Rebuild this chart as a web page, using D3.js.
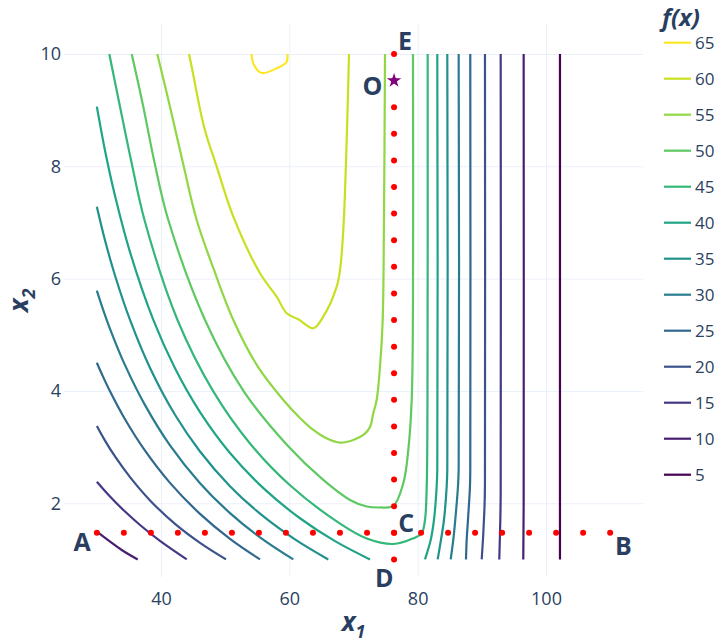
<!DOCTYPE html>
<html><head><meta charset="utf-8">
<script src="https://cdn.jsdelivr.net/npm/d3@7"></script>
<style>body{margin:0;background:#fff;} svg{display:block;font-family:"Open Sans",sans-serif;}</style>
</head><body><svg id="c" width="718" height="642"></svg>
<script>
// ---------------- data ----------------
const levels = [5,10,15,20,25,30,35,40,45,50,55,60,65];
const xTicks = [40,60,80,100];
const yTicks = [2,4,6,8,10];

// contour lines, [x1, x2]
const c05  = [[102.18,1],[102.18,10]];
const c10L = [[30.0,1.494],[33.88,1.168],[36.37,1.0]];
const c10R = [[96.52,10],[96.52,2],[96.46,1]];
const c15L = [[30.0,2.384],[32.05,2.121],[34.39,1.852],[36.73,1.613],[39.84,1.329],[44.01,1.0]];
const c15R = [[92.94,10],[92.94,2.2],[92.88,1.70],[92.72,1.0]];
const c20L = [[30.0,3.376],[31.27,3.116],[32.83,2.833],[35.17,2.465],[38.29,2.051],[42.18,1.633],[46.08,1.295],[50.13,1.0]];
const c20R = [[90.49,10],[90.49,2.4],[90.45,2.06],[90.23,1.466],[89.98,1.0]];
const c25L = [[30.0,4.503],[30.81,4.293],[32.05,3.994],[34.39,3.496],[37.51,2.936],[41.40,2.363],[46.08,1.811],[50.75,1.366],[55.43,1.0]];
const c25R = [[88.20,10],[88.20,2.6],[88.15,2.295],[87.84,1.702],[87.64,1.346],[87.53,1.0]];
const c30L = [[30.0,5.785],[30.81,5.502],[32.05,5.107],[34.39,4.459],[37.51,3.747],[41.40,3.031],[46.08,2.358],[50.75,1.825],[55.43,1.394],[60.62,1.0]];
const c30R = [[86.39,10],[86.39,2.6],[86.28,2.295],[85.86,1.702],[85.55,1.346],[85.15,1.0]];
const c35L = [[30.0,7.281],[31.27,6.683],[32.83,6.056],[35.17,5.264],[38.29,4.409],[42.18,3.576],[46.08,2.922],[50.75,2.304],[55.43,1.815],[60.88,1.357],[66.07,1.0]];
const c35R = [[84.62,10],[84.62,2.6],[84.52,2.295],[84.10,1.702],[83.63,1.346],[83.12,1.0]];
const c40L = [[30.0,9.062],[31.27,8.283],[32.83,7.477],[35.17,6.473],[38.80,5.264],[42.18,4.402],[46.08,3.622],[50.75,2.894],[56.21,2.242],[61.66,1.733],[67.12,1.325],[72.57,1.0]];
const c40R = [[83.06,10],[83.06,2.6],[82.96,2.295],[82.54,1.702],[82.03,1.346],[81.14,1.0]];
const c45  = [[31.94,10],[33.61,9.062],[35.43,8.054],[37.51,7.009],[42.57,5.264],[48.15,3.992],[53.87,3.064],[60.10,2.320],[67.90,1.638],[72.06,1.373],[76.20,1.275],[79.32,1.376],[80.63,1.466],[81.14,1.702],[81.41,2.296],[81.53,3.839],[81.56,10]];
const c50  = [[35.43,10],[36.34,9.537],[37.24,9.062],[39.07,8.024],[41.14,7.044],[46.86,5.264],[52.90,3.994],[59.64,3.038],[65.29,2.415],[69.45,2.059],[72.06,1.943],[74.13,1.925],[76.20,1.952],[77.76,2.356],[78.54,2.949],[79.07,3.839],[79.27,5.62],[79.27,10]];
const c55  = [[39.42,10],[41.40,9.062],[43.43,8.054],[45.56,7.044],[48.26,6.154],[51.27,5.264],[55.12,4.427],[59.06,3.839],[61.66,3.519],[63.73,3.305],[65.71,3.162],[67.90,3.079],[69.97,3.127],[71.64,3.225],[72.57,3.358],[73.08,3.602],[73.61,3.839],[74.13,4.432],[74.55,5.264],[74.75,7.044],[74.91,10]];
const c60  = [[44.36,10],[44.78,9.774],[46.70,8.706],[48.68,7.994],[51.27,7.103],[55.43,6.095],[58.03,5.678],[59.59,5.383],[61.40,5.276],[63.73,5.116],[65.29,5.322],[67.38,5.857],[67.90,6.154],[68.41,6.866],[68.94,8.469],[69.30,10]];
const c65  = [[54.10,10],[54.49,9.804],[55.69,9.662],[58.03,9.745],[59.56,9.858],[59.71,10]];

const pieceLevels = [5,10,10,15,15,20,20,25,25,30,30,35,35,40,40,45,50,55,60,65];
const pieceLines  = [c05,c10L,c10R,c15L,c15R,c20L,c20R,c25L,c25R,c30L,c30R,c35L,c35R,c40L,c40R,c45,c50,c55,c60,c65];

// sample points
const abX = [30,34.21,38.42,42.63,46.84,51.05,55.26,59.47,63.68,67.89,72.11,76.32,80.53,84.74,88.95,93.16,97.37,101.58,105.79,110];
const abY = 1.474;
const deX = 76.32;
const deY = [1,1.474,1.947,2.421,2.895,3.368,3.842,4.316,4.789,5.263,5.737,6.211,6.684,7.158,7.632,8.105,8.579,9.053,9.526,10];
const optimum = [76.32,9.526];

const labelText = ["A","B","C","D","E","O"];
const labelX = [27.69,112.05,78.21,74.80,78.03,72.96];
const labelY = [1.312,1.243,1.649,0.670,10.235,9.427];

// ---------------- drawing ----------------
const W = 718, H = 642;
const L = 64, R = 643, T = 24, B = 577;
const ink = "#2a3f5f";
const svg = d3.select("#c");
svg.append("rect").attr("width",W).attr("height",H).attr("fill","#fff");

const x = d3.scaleLinear().domain([24.88,115.12]).range([L,R]);
const y = d3.scaleLinear().domain([0.687,10.534]).range([B,T]);
const color = v => d3.interpolateViridis((v-5)/60);

// grid + axes
const gx = svg.append("g").attr("transform",`translate(0,${B})`)
  .call(d3.axisBottom(x).tickValues(xTicks).tickSize(-(B-T)).tickPadding(15).tickFormat(d3.format("d")));
const gy = svg.append("g").attr("transform",`translate(${L},0)`)
  .call(d3.axisLeft(y).tickValues(yTicks).tickSize(-(R-L)).tickPadding(3).tickFormat(d3.format("d")));
[gx,gy].forEach(g=>{
  g.select(".domain").remove();
  g.selectAll(".tick line").attr("stroke","#ebf0f8").attr("stroke-width",1);
  g.selectAll(".tick text").attr("fill",ink).style("font-size","18px").style("font-family","'Open Sans',sans-serif");
});

// contours
const line = d3.line().x(d=>x(d[0])).y(d=>y(d[1])).curve(d3.curveCatmullRom.alpha(0.5));
svg.append("g").selectAll("path").data(pieceLines).join("path")
  .attr("d",line).attr("fill","none")
  .attr("stroke",(d,i)=>color(pieceLevels[i])).attr("stroke-width",2.2)
  .attr("stroke-linejoin","round").attr("stroke-linecap","butt");

// dots
svg.append("g").selectAll("circle").data(abX).join("circle")
  .attr("cx",d=>x(d)).attr("cy",y(abY)).attr("r",3).attr("fill","#ff0000");
svg.append("g").selectAll("circle").data(deY).join("circle")
  .attr("cx",x(deX)).attr("cy",d=>y(d)).attr("r",3).attr("fill","#ff0000");
svg.append("path").attr("d",d3.symbol(d3.symbolStar,65)())
  .attr("transform",`translate(${x(optimum[0])},${y(optimum[1])})`).attr("fill","#800080");

// point labels
svg.append("g").selectAll("text").data(labelText).join("text")
  .attr("x",(d,i)=>x(labelX[i])).attr("y",(d,i)=>y(labelY[i])).attr("dy","0.36em")
  .attr("text-anchor","middle").attr("fill",ink)
  .style("font-size","25px").style("font-weight","bold").text(d=>d);

// axis titles
const xt = svg.append("text").attr("x",(L+R)/2).attr("y",631).attr("text-anchor","middle")
  .attr("fill",ink).style("font-size","26px").style("font-weight","bold").style("font-style","italic");
xt.append("tspan").text("x");
xt.append("tspan").attr("dy","0.4em").style("font-size","18px").text("1");
const yt = svg.append("text").attr("transform",`translate(28,${(T+B)/2}) rotate(-90)`).attr("text-anchor","middle")
  .attr("fill",ink).style("font-size","26px").style("font-weight","bold").style("font-style","italic");
yt.append("tspan").text("x");
yt.append("tspan").attr("dy","0.4em").style("font-size","18px").text("2");

// legend
svg.append("text").attr("x",662).attr("y",26).attr("fill",ink)
  .style("font-size","24px").style("font-weight","bold").style("font-style","italic").text("f(x)");
const leg = svg.append("g").selectAll("g").data(levels.slice().reverse()).join("g")
  .attr("transform",(d,i)=>`translate(0,${42.7+36*i})`);
leg.append("line").attr("x1",664).attr("x2",691).attr("stroke",d=>color(d)).attr("stroke-width",2.2);
leg.append("text").attr("x",695).attr("dy","0.36em").attr("fill",ink).style("font-size","17px").text(d=>d);
</script></body></html>
